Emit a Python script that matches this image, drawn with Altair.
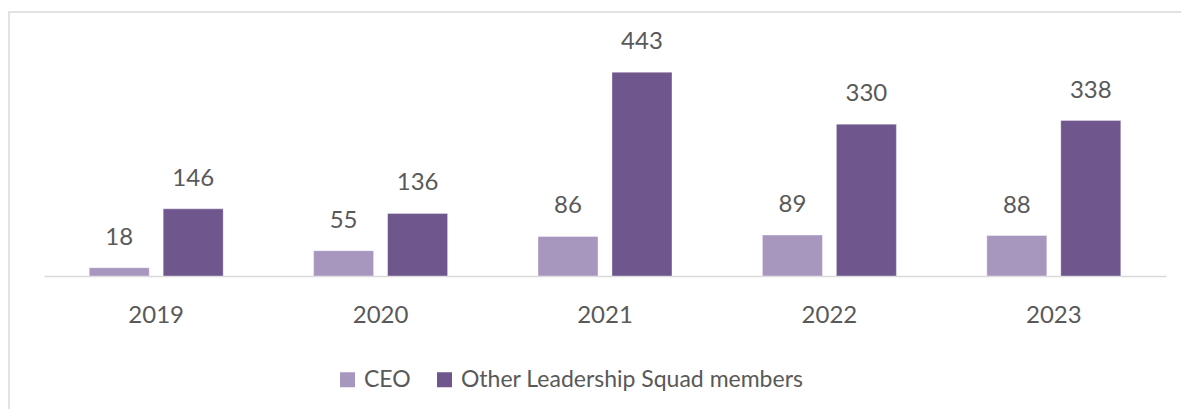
import altair as alt
import pandas as pd

years = ["2019", "2020", "2021", "2022", "2023"]
series = ["CEO", "Other Leadership Squad members"]
ceo = [18, 55, 86, 89, 88]
other = [146, 136, 443, 330, 338]
colors = ["#A797BF", "#6F568D"]

rows = []
for i, y in enumerate(years):
    rows.append({"year": y, "series": series[0], "value": ceo[i]})
    rows.append({"year": y, "series": series[1], "value": other[i]})
df = pd.DataFrame(rows)

FONT = "Lato"
TXT = "#595959"

base = alt.Chart(df).encode(
    x=alt.X(
        "year:N",
        sort=years,
        scale=alt.Scale(paddingInner=0.403, paddingOuter=0.2015),
        axis=alt.Axis(
            title=None,
            labelAngle=0,
            ticks=False,
            tickSize=0,
            labelPadding=46,
            labelBaseline="alphabetic",
            labelFont=FONT,
            labelFontSize=24,
            labelColor=TXT,
            domainColor="#D9D9D9",
            domainWidth=1.5,
            grid=False,
        ),
    ),
    xOffset=alt.XOffset(
        "series:N", sort=series, scale=alt.Scale(paddingInner=0.189, paddingOuter=0)
    ),
    y=alt.Y("value:Q", scale=alt.Scale(domain=[0, 500]), axis=None),
)

bars = base.mark_bar(stroke="#FFFFFF", strokeOpacity=0.35, strokeWidth=1).encode(
    color=alt.Color(
        "series:N",
        sort=series,
        scale=alt.Scale(domain=series, range=colors),
        legend=alt.Legend(
            title=None,
            orient="none",
            direction="horizontal",
            legendX=292,
            legendY=322,
            symbolType="square",
            symbolSize=225,
            symbolStrokeWidth=0,
            labelFont=FONT,
            labelFontSize=23,
            labelColor=TXT,
            labelOffset=5,
            labelLimit=1000,
            columnPadding=22,
            padding=0,
        ),
    )
)

labels = base.mark_text(
    dy=-23, baseline="alphabetic", align="center", font=FONT, fontSize=24, color=TXT
).encode(text="value:Q")

border = alt.Chart(alt.Data(values=[{"a": 1}])).mark_rect(
    fill="transparent", stroke="#D9D9D9", strokeWidth=1.5
).encode(
    x=alt.value(-35), x2=alt.value(1200), y=alt.value(-34), y2=alt.value(420)
)

chart = (
    alt.layer(border, bars, labels)
    .properties(
        width=1122,
        height=230,
        background="white",
        autosize=alt.AutoSizeParams(type="none"),
        padding={"left": 36, "top": 38, "right": 15, "bottom": 133},
    )
    .configure_view(strokeWidth=0, stroke=None)
)

chart.save("out.html", embed_options={"renderer": "svg", "actions": False})
